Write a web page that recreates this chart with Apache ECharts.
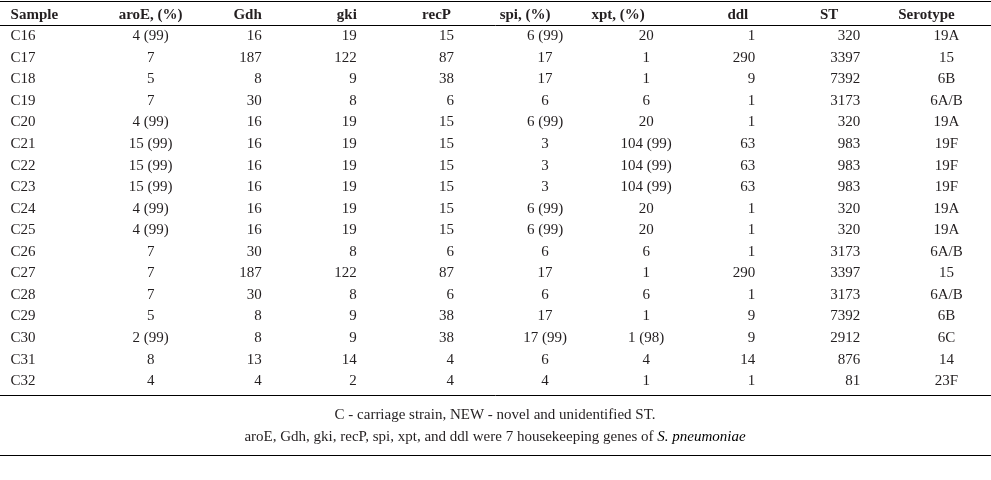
<!DOCTYPE html>
<html><head><meta charset="utf-8">
<script src="https://cdn.jsdelivr.net/npm/echarts@6/dist/echarts.min.js"></script>
<style>html,body{margin:0;padding:0;background:#fff}#c{width:991px;height:480px}</style>
</head><body><div id="c"></div>
<script>
// ---- table data ----
const headers = ["Sample", "aroE, (%)", "Gdh", "gki", "recP", "spi, (%)", "xpt, (%)", "ddl", "ST", "Serotype"];
const samples = ["C16","C17","C18","C19","C20","C21","C22","C23","C24","C25","C26","C27","C28","C29","C30","C31","C32"];
const aroE = ["4 (99)","7","5","7","4 (99)","15 (99)","15 (99)","15 (99)","4 (99)","4 (99)","7","7","7","5","2 (99)","8","4"];
const gdh = ["16","187","8","30","16","16","16","16","16","16","30","187","30","8","8","13","4"];
const gki = ["19","122","9","8","19","19","19","19","19","19","8","122","8","9","9","14","2"];
const recP = ["15","87","38","6","15","15","15","15","15","15","6","87","6","38","38","4","4"];
const spi = ["6 (99)","17","17","6","6 (99)","3","3","3","6 (99)","6 (99)","6","17","6","17","17 (99)","6","4"];
const xpt = ["20","1","1","6","20","104 (99)","104 (99)","104 (99)","20","20","6","1","6","1","1 (98)","4","1"];
const ddl = ["1","290","9","1","1","63","63","63","1","1","1","290","1","9","9","14","1"];
const st = ["320","3397","7392","3173","320","983","983","983","320","320","3173","3397","3173","7392","2912","876","81"];
const serotype = ["19A","15","6B","6A/B","19A","19F","19F","19F","19A","19A","6A/B","15","6A/B","6B","6C","14","23F"];
const footnote1 = "C - carriage strain, NEW - novel and unidentified ST.";
const footnote2a = "aroE, Gdh, gki, recP, spi, xpt, and ddl were 7 housekeeping genes of ";
const footnote2b = "S. pneumoniae";

// ---- layout / style ----
const FONT = "'Liberation Serif', 'DejaVu Serif', serif";
const TXT = '#231f20';
const columns = [samples, aroE, gdh, gki, recP, spi, xpt, ddl, st, serotype];
// per-column alignment relative to category band centre
const colStyle = [
  {align:'left', off:-39, hAlign:'left', hOff:-39},
  {align:'center', off:2, hAlign:'center', hOff:2},
  {align:'right', off:14, hAlign:'right', hOff:14},
  {align:'right', off:10, hAlign:'right', hOff:10},
  {align:'right', off:8, hAlign:'right', hOff:5},
  {align:'center', off:0, hAlign:'center', hOff:-20},
  {align:'center', off:2, hAlign:'center', hOff:-26},
  {align:'right', off:12, hAlign:'right', hOff:5},
  {align:'right', off:18, hAlign:'right', hOff:-4},
  {align:'center', off:5, hAlign:'center', hOff:-15}
];
const rowCats = ['h'].concat(samples.map((s,i)=>'r'+i));
const colCats = headers.map((h,i)=>'c'+i);

const data = [];
headers.forEach((h,ci)=>{
  const cs = colStyle[ci];
  data.push({value:[ci,0,h], label:{fontWeight:'bold', align:cs.hAlign, offset:[cs.hOff,0]}});
});
columns.forEach((col,ci)=>{
  const cs = colStyle[ci];
  col.forEach((v,ri)=>{
    data.push({value:[ci,ri+1,v], label:{align:cs.align, offset:[cs.off,0]}});
  });
});

const chart = echarts.init(document.getElementById('c'), null, {renderer:'canvas'});
chart.setOption({
  animation:false,
  backgroundColor:'#fff',
  grid:{left:0, right:0, top:4, height:388},
  xAxis:{type:'category', data:colCats, show:false, boundaryGap:true},
  yAxis:{type:'category', data:rowCats, inverse:true, show:false, boundaryGap:true},
  series:[{
    type:'scatter', symbolSize:0, silent:true,
    itemStyle:{opacity:1, color:'#fff'},
    label:{show:true, position:'inside', formatter:p=>p.value[2], fontFamily:FONT, fontSize:15,
      color:TXT, textBorderWidth:0, textShadowBlur:0, opacity:1, verticalAlign:'middle'},
    data:data
  }],
  graphic:[
    {type:'line', shape:{x1:0,y1:1.5,x2:991,y2:1.5}, style:{stroke:'#000', lineWidth:1.2}},
    {type:'line', shape:{x1:0,y1:25.5,x2:991,y2:25.5}, style:{stroke:'#000', lineWidth:1}},
    {type:'line', shape:{x1:0,y1:395.5,x2:991,y2:395.5}, style:{stroke:'#000', lineWidth:1}},
    {type:'line', shape:{x1:0,y1:455.5,x2:991,y2:455.5}, style:{stroke:'#000', lineWidth:1.2}},
    {type:'text', x:495, y:415, style:{text:footnote1, font:"15px "+FONT, fill:TXT, align:'center', verticalAlign:'middle'}},
    {type:'text', x:495, y:437, style:{text:'{n|'+footnote2a+'}{i|'+footnote2b+'}', align:'center', verticalAlign:'middle',
      rich:{n:{fontFamily:FONT, fontSize:15, fill:TXT, color:TXT}, i:{fontFamily:FONT, fontSize:15, fontStyle:'italic', color:TXT}}}}
  ]
});
</script></body></html>
